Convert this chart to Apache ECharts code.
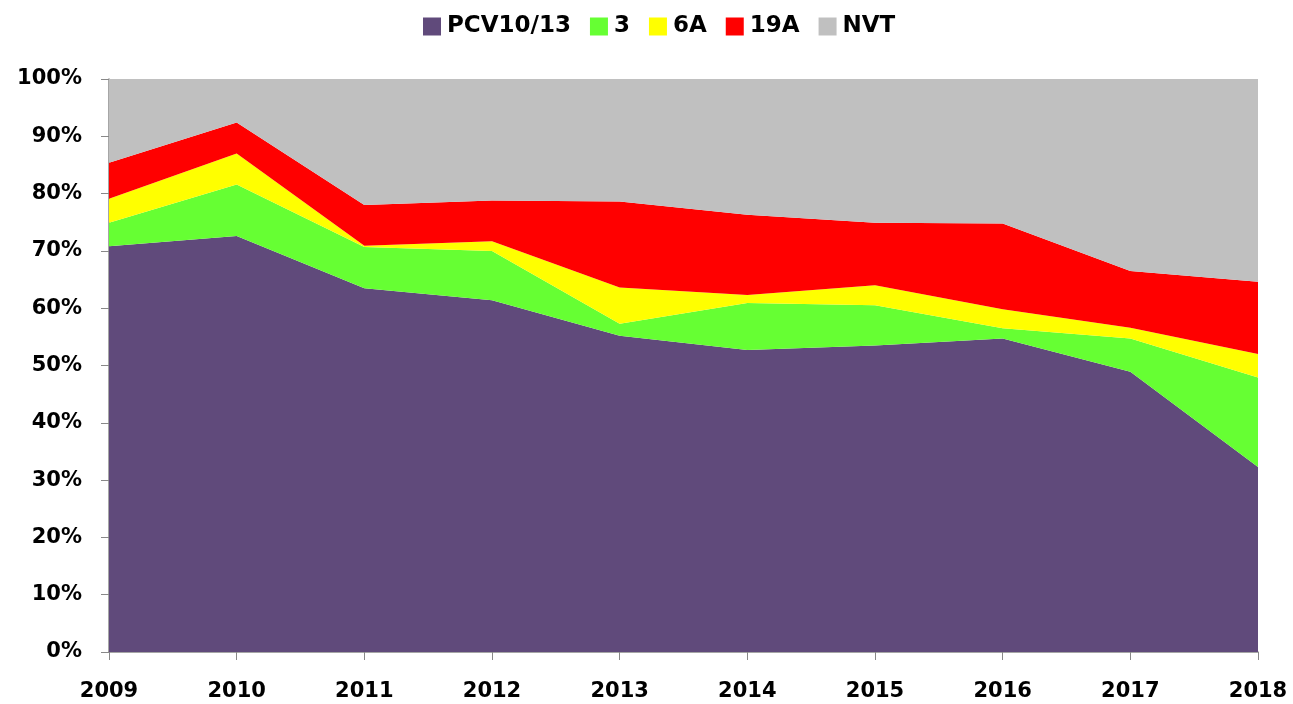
<!DOCTYPE html>
<html>
<head>
<meta charset="utf-8">
<script src="https://cdn.jsdelivr.net/npm/echarts@6/dist/echarts.min.js"></script>
<style>
  html, body { margin: 0; padding: 0; background: #fff; }
  #chart { width: 1293px; height: 704px; }
</style>
</head>
<body>
<div id="chart"></div>
<script>
// 数据
const years = ['2009', '2010', '2011', '2012', '2013', '2014', '2015', '2016', '2017', '2018']
const pcv = [70.8, 72.6, 63.5, 61.4, 55.2, 52.7, 53.5, 54.7, 48.9, 32.3]
const st3 = [4.1, 9.0, 7.2, 8.6, 2.1, 8.2, 7.0, 1.8, 5.8, 15.6]
const st6a = [4.2, 5.4, 0.2, 1.7, 6.3, 1.4, 3.5, 3.3, 1.9, 4.1]
const st19a = [6.3, 5.4, 7.1, 7.1, 15.0, 14.0, 10.9, 15.0, 9.9, 12.6]
const nvt = [14.6, 7.6, 22.0, 21.2, 21.4, 23.7, 25.1, 25.2, 33.5, 35.4]

const names = ['PCV10/13', '3', '6A', '19A', 'NVT']
const colors = ['#604A7B', '#66FF33', '#FFFF00', '#FF0000', '#C0C0C0']
const seriesData = [pcv, st3, st6a, st19a, nvt]

const chart = echarts.init(document.getElementById('chart'))

const font = 'DejaVu Sans, Verdana, sans-serif'

const option = {
  animation: false,
  legend: {
    top: 10,
    left: 418,
    icon: 'rect',
    itemWidth: 18,
    itemHeight: 18,
    itemGap: 19,
    textStyle: { fontFamily: font, fontWeight: 'bold', fontSize: 23, color: '#000', padding: [0, 0, 0, 1] },
    data: names
  },
  grid: { left: 109, right: 35, top: 79, bottom: 52 },
  xAxis: {
    type: 'category',
    data: years,
    boundaryGap: false,
    axisLine: { lineStyle: { color: '#888', width: 1.5 } },
    axisTick: { show: true, length: 8, lineStyle: { color: '#888' } },
    axisLabel: { fontFamily: font, fontWeight: 'bold', fontSize: 21, color: '#000', margin: 29 }
  },
  yAxis: {
    type: 'value',
    min: 0,
    max: 100,
    interval: 10,
    axisLine: { show: true, lineStyle: { color: '#888', width: 1.5 } },
    axisTick: { show: true, length: 8, lineStyle: { color: '#888' } },
    splitLine: { show: false },
    axisLabel: { formatter: '{value}%', fontFamily: font, fontWeight: 'bold', fontSize: 21, color: '#000', margin: 27 }
  },
  series: names.map((n, i) => ({
    name: n,
    type: 'line',
    stack: 'total',
    data: seriesData[i],
    symbol: 'none',
    lineStyle: { width: 0 },
    itemStyle: { color: colors[i] },
    areaStyle: { color: colors[i], opacity: 1 },
    z: 2
  }))
}

chart.setOption(option)
</script>
</body>
</html>
